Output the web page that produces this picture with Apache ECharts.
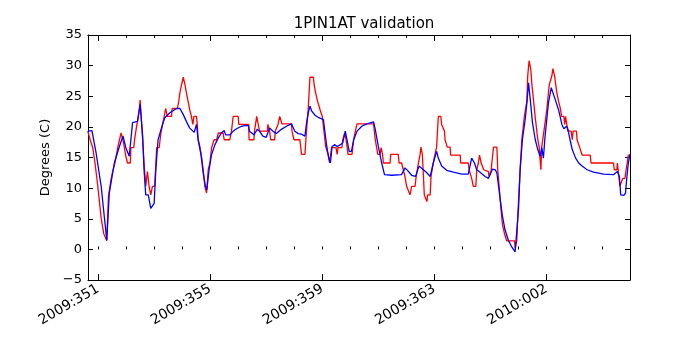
<!DOCTYPE html>
<html>
<head>
<meta charset="utf-8">
<script src="https://cdn.jsdelivr.net/npm/echarts@6/dist/echarts.min.js"></script>
<style>
  html, body { margin: 0; padding: 0; background: #fff; }
  #chart { width: 700px; height: 350px; }
</style>
</head>
<body>
<div id="chart"></div>
<script>
// day of year counted from 2009:001 (2010:001 = 366)
const majorDays = [351, 355, 359, 363, 367]
const minorDays = [351, 352, 353, 354, 355, 356, 357, 358, 359, 360, 361, 362, 363, 364, 365, 366, 367, 368, 369]
const yTicks = [-5, 0, 5, 10, 15, 20, 25, 30, 35]

// measured temperature (red)
const measDay = [
  350.63, 350.75, 350.81, 350.89, 350.99, 351.11, 351.20, 351.31, 351.37, 351.46, 351.52, 351.60, 351.70, 351.82,
  351.91, 351.99, 352.05, 352.15, 352.17, 352.27, 352.31, 352.38, 352.47, 352.50, 352.56, 352.64, 352.70, 352.76,
  352.82, 352.88, 352.94, 353.02, 353.09, 353.18, 353.24, 353.36, 353.41, 353.47, 353.62, 353.64, 353.83, 353.88,
  353.92, 353.98, 354.04, 354.10, 354.15, 354.21, 354.27, 354.33, 354.38, 354.42, 354.51, 354.54, 354.57, 354.63,
  354.69, 354.75, 354.81, 354.87, 354.93, 354.99, 355.05, 355.14, 355.23, 355.29, 355.46, 355.50, 355.70, 355.76,
  355.82, 356.00, 356.02, 356.37, 356.39, 356.56, 356.58, 356.64, 356.66, 356.72, 356.76, 357.04, 357.06, 357.08,
  357.12, 357.16, 357.30, 357.32, 357.42, 357.48, 357.54, 357.56, 357.90, 357.92, 357.99, 358.20, 358.26, 358.38,
  358.44, 358.50, 358.56, 358.68, 358.71, 358.76, 358.83, 358.92, 359.00, 359.07, 359.12, 359.17, 359.21, 359.26,
  359.29, 359.33, 359.49, 359.53, 359.56, 359.70, 359.73, 359.80, 359.85, 359.92, 360.06, 360.12, 360.18, 360.24,
  360.83, 360.89, 360.94, 360.98, 361.06, 361.10, 361.15, 361.18, 361.42, 361.44, 361.71, 361.74, 361.83, 361.89,
  361.95, 362.01, 362.07, 362.13, 362.19, 362.31, 362.35, 362.43, 362.49, 362.52, 362.57, 362.61, 362.64, 362.69,
  362.73, 362.76, 362.85, 362.88, 362.96, 363.02, 363.08, 363.14, 363.23, 363.26, 363.32, 363.36, 363.38, 363.44,
  363.46, 363.56, 363.58, 363.92, 363.94, 364.21, 364.24, 364.33, 364.39, 364.48, 364.51, 364.57, 364.61, 364.67,
  364.71, 364.76, 364.81, 364.93, 364.95, 365.02, 365.05, 365.11, 365.23, 365.26, 365.31, 365.38, 365.43, 365.50,
  365.58, 365.86, 365.88, 365.94, 365.98, 366.06, 366.12, 366.21, 366.30, 366.33, 366.38, 366.44, 366.48, 366.54,
  366.60, 366.69, 366.74, 366.80, 366.83, 366.89, 366.95, 367.01, 367.10, 367.19, 367.23, 367.29, 367.33, 367.37,
  367.43, 367.49, 367.54, 367.62, 367.65, 367.68, 367.74, 367.76, 367.88, 367.92, 367.95, 368.07, 368.09, 368.15,
  368.18, 368.25, 368.27, 368.56, 368.59, 369.39, 369.42, 369.51, 369.53, 369.59, 369.62, 369.68, 369.72, 369.80,
  369.84, 369.88, 369.92, 369.98
]
const measTemp = [
  19.3, 17.4, 16.6, 14.1, 10.3, 5.1, 2.6, 1.4, 8.6, 11.4, 12.7, 14.1, 16.6, 19.0,
  17.4, 15.2, 14.1, 14.1, 16.6, 16.6, 18.2, 18.2, 22.8, 24.4, 20.1, 14.1, 10.3, 12.7,
  10.3, 8.9, 10.3, 10.3, 16.6, 16.6, 19.0, 21.7, 23.0, 21.7, 21.7, 23.0, 23.0, 24.2,
  25.6, 26.9, 28.1, 26.9, 25.6, 24.2, 22.8, 21.7, 20.4, 21.7, 21.7, 20.4, 17.9, 16.8,
  15.2, 13.0, 10.3, 9.2, 13.0, 14.1, 16.6, 17.9, 17.9, 19.0, 19.0, 17.9, 17.9, 19.3,
  21.7, 21.7, 20.4, 20.4, 17.9, 17.9, 19.3, 19.3, 21.7, 21.7, 19.3, 19.3, 20.4, 20.4,
  19.3, 17.9, 17.9, 19.3, 20.4, 21.7, 21.7, 20.5, 20.5, 19.3, 17.9, 17.9, 15.5, 15.5,
  19.6, 23.1, 28.1, 28.1, 26.9, 25.6, 24.2, 22.8, 21.7, 21.7, 16.8, 16.6, 15.5, 14.1,
  14.1, 16.6, 16.6, 15.5, 16.6, 16.6, 17.9, 19.0, 17.9, 15.5, 15.5, 17.9, 19.3, 20.5,
  20.5, 17.9, 16.6, 15.5, 15.5, 16.6, 15.5, 14.1, 14.1, 15.5, 15.5, 14.1, 14.1, 13.0,
  11.9, 10.3, 10.3, 8.9, 10.3, 10.3, 11.9, 14.1, 15.5, 16.7, 15.5, 11.9, 8.9, 8.9,
  7.8, 8.9, 8.9, 11.9, 14.1, 15.5, 16.7, 21.7, 21.7, 20.4, 20.4, 19.3, 17.9, 17.9,
  16.7, 16.7, 15.4, 15.4, 14.1, 14.1, 13.0, 11.6, 10.3, 10.3, 13.0, 14.1, 15.4, 14.1,
  14.1, 13.0, 12.7, 12.7, 11.9, 12.7, 14.1, 16.7, 16.7, 13.0, 10.3, 6.4, 4.0, 2.6,
  1.4, 1.4, 0.2, 1.4, 5.9, 13.0, 17.9, 21.7, 24.2, 28.3, 30.8, 29.4, 26.9, 24.2,
  21.5, 17.9, 16.7, 13.0, 16.7, 16.7, 20.7, 22.8, 26.9, 28.3, 29.5, 28.3, 26.9, 25.6,
  24.2, 23.1, 21.7, 21.7, 20.4, 21.7, 21.7, 19.3, 19.3, 17.9, 19.3, 19.3, 17.9, 17.9,
  16.7, 16.7, 15.4, 15.4, 14.1, 14.1, 13.0, 13.0, 14.1, 14.1, 10.3, 10.3, 11.6, 11.6,
  13.0, 14.1, 15.4, 15.4
]

// model temperature (blue)
const modelDay = [
  350.64, 350.78, 350.93, 351.11, 351.22, 351.31, 351.40, 351.58, 351.76, 351.89, 351.99, 352.11, 352.17, 352.23,
  352.41, 352.50, 352.59, 352.64, 352.70, 352.79, 352.88, 353.00, 353.06, 353.14, 353.30, 353.38, 353.56, 353.80,
  353.92, 354.04, 354.15, 354.27, 354.43, 354.51, 354.57, 354.67, 354.75, 354.83, 354.88, 354.96, 355.05, 355.17,
  355.29, 355.40, 355.50, 355.55, 355.70, 355.82, 355.94, 356.12, 356.22, 356.37, 356.40, 356.56, 356.68, 356.76,
  356.88, 357.00, 357.12, 357.24, 357.36, 357.54, 357.72, 357.90, 357.96, 358.02, 358.14, 358.26, 358.38, 358.44,
  358.50, 358.56, 358.62, 358.74, 358.88, 359.04, 359.10, 359.16, 359.23, 359.29, 359.35, 359.45, 359.53, 359.65,
  359.73, 359.82, 359.88, 359.96, 360.04, 360.12, 360.24, 360.41, 360.59, 360.83, 360.89, 361.00, 361.12, 361.22,
  361.48, 361.83, 361.89, 361.95, 362.04, 362.07, 362.19, 362.33, 362.45, 362.61, 362.73, 362.85, 362.96, 363.08,
  363.14, 363.26, 363.44, 363.68, 363.98, 364.21, 364.27, 364.33, 364.43, 364.51, 364.60, 364.81, 364.93, 364.99,
  365.07, 365.17, 365.23, 365.29, 365.35, 365.43, 365.52, 365.64, 365.76, 365.88, 365.94, 366.00, 366.06, 366.14,
  366.24, 366.30, 366.36, 366.42, 366.50, 366.60, 366.69, 366.77, 366.83, 366.89, 366.95, 367.07, 367.17, 367.25,
  367.33, 367.43, 367.55, 367.62, 367.72, 367.76, 367.84, 367.92, 368.04, 368.15, 368.27, 368.45, 368.68, 369.04,
  369.39, 369.45, 369.53, 369.60, 369.65, 369.76, 369.82, 369.86, 369.92, 369.98
]
const modelTemp = [
  19.3, 19.4, 15.7, 10.3, 5.4, 1.5, 9.2, 14.1, 16.8, 18.5, 16.6, 15.2, 17.9, 20.7,
  20.9, 23.7, 18.5, 13.0, 8.9, 8.9, 6.7, 7.5, 13.0, 17.9, 20.4, 21.5, 22.3, 23.0,
  23.0, 22.0, 20.9, 19.8, 19.1, 20.4, 17.9, 15.5, 12.5, 10.3, 9.7, 13.0, 15.5, 17.1,
  18.2, 19.0, 19.4, 18.7, 18.7, 19.3, 19.7, 20.1, 20.2, 20.2, 19.3, 18.7, 19.6, 19.3,
  18.5, 18.3, 19.8, 19.3, 18.9, 19.6, 20.1, 20.5, 20.4, 19.3, 18.9, 18.8, 18.5, 20.7,
  22.3, 23.4, 22.6, 21.9, 21.5, 21.2, 19.0, 16.8, 14.9, 14.1, 16.8, 17.1, 16.8, 17.1,
  17.4, 19.3, 17.9, 16.0, 16.0, 17.9, 19.3, 20.1, 20.5, 20.8, 19.6, 16.8, 14.1, 12.2,
  12.1, 12.2, 12.5, 13.3, 12.9, 12.7, 12.1, 11.9, 13.6, 13.0, 12.5, 11.9, 14.1, 16.0,
  14.9, 13.6, 12.9, 12.6, 12.3, 12.3, 13.6, 14.9, 14.1, 13.0, 12.7, 11.9, 11.6, 11.9,
  13.1, 13.0, 12.5, 10.3, 8.1, 5.4, 3.2, 1.5, 0.4, -0.4, -0.5, 6.4, 13.0, 17.9,
  21.2, 23.9, 27.2, 24.5, 20.7, 17.9, 16.3, 15.2, 16.6, 14.9, 18.5, 23.9, 26.4, 25.3,
  24.2, 22.8, 20.4, 19.7, 20.1, 19.7, 17.9, 16.3, 14.9, 14.1, 13.6, 13.0, 12.6, 12.3,
  12.2, 12.5, 12.7, 11.9, 8.9, 8.8, 9.2, 11.4, 14.1, 15.5
]

const font = 'DejaVu Sans'
const xMin = 350.64
const xMax = 369.98

function dayLabel(v) {
  const d = Math.round(v)
  if (d > 365)
    return `2010:${String(d - 365).padStart(3, '0')}`
  return `2009:${String(d).padStart(3, '0')}`
}

const frameLine = { show: true, onZero: false, lineStyle: { color: '#000', width: 1 } }

function xTickAxis(gridIndex, position, ticks, len, withLabels) {
  return {
    type: 'value',
    gridIndex,
    position,
    min: xMin,
    max: xMax,
    axisLine: withLabels || position === 'top' ? frameLine : { show: false },
    axisTick: { show: true, inside: true, length: len, customValues: ticks, lineStyle: { color: '#000', width: 1 } },
    axisLabel: withLabels
      ? {
          show: true,
          customValues: majorDays,
          formatter: dayLabel,
          rotate: 30,
          margin: 8,
          color: '#000',
          fontFamily: font,
          fontSize: 14,
        }
      : { show: false },
    splitLine: { show: false },
  }
}

function yAxisDef(gridIndex, position, withLabels) {
  return {
    type: 'value',
    gridIndex,
    position,
    show: gridIndex === 0,
    min: yTicks[0],
    max: yTicks[yTicks.length - 1],
    interval: 5,
    axisLine: frameLine,
    axisTick: { show: true, inside: true, length: 5, lineStyle: { color: '#000', width: 1 } },
    axisLabel: withLabels
      ? {
          show: true,
          margin: 6,
          color: '#000',
          fontFamily: font,
          fontSize: 13,
          formatter: v => (v < 0 ? `\u2212${Math.abs(v)}` : `${v}`),
        }
      : { show: false },
    splitLine: { show: false },
    name: withLabels ? 'Degrees (C)' : '',
    nameLocation: 'middle',
    nameGap: 25,
    nameRotate: 90,
    nameTextStyle: { color: '#000', fontFamily: font, fontSize: 13 },
  }
}

const chart = echarts.init(document.getElementById('chart'), null, { renderer: 'canvas' })

const gridRect = { left: 88, right: 70, top: 35, bottom: 70, containLabel: false }

chart.setOption({
  animation: false,
  backgroundColor: '#fff',
  title: {
    text: '1PIN1AT validation',
    left: 359,
    textAlign: 'center',
    top: 12,
    textStyle: { color: '#000', fontFamily: font, fontSize: 15, fontWeight: 'normal' },
  },
  grid: [gridRect, { ...gridRect }],
  xAxis: [
    xTickAxis(0, 'bottom', majorDays, 6, true),
    xTickAxis(0, 'top', majorDays, 6, false),
    xTickAxis(1, 'bottom', minorDays, 3, false),
    xTickAxis(1, 'top', minorDays, 3, false),
  ],
  yAxis: [
    yAxisDef(0, 'left', true),
    yAxisDef(0, 'right', false),
    yAxisDef(1, 'left', false),
  ],
  series: [
    {
      name: 'measured',
      type: 'line',
      xAxisIndex: 0,
      yAxisIndex: 0,
      data: measDay.map((d, i) => [d, measTemp[i]]),
      showSymbol: false,
      symbol: 'none',
      lineStyle: { color: '#ff0000', width: 1.3 },
      z: 2,
    },
    {
      name: 'model',
      type: 'line',
      xAxisIndex: 0,
      yAxisIndex: 0,
      data: modelDay.map((d, i) => [d, modelTemp[i]]),
      showSymbol: false,
      symbol: 'none',
      lineStyle: { color: '#0000ff', width: 1.3 },
      z: 3,
    },
  ],
})
</script>
</body>
</html>
